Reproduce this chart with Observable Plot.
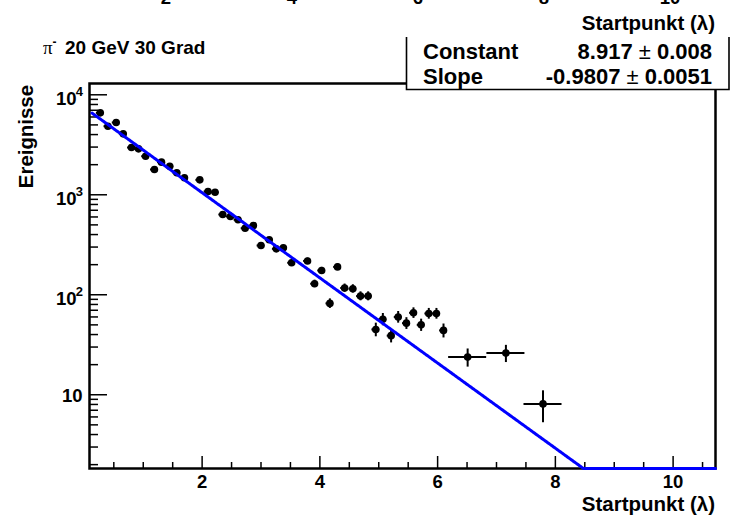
<!DOCTYPE html>
<html>
<head>
<meta charset="utf-8">
<script src="https://cdn.jsdelivr.net/npm/d3@7"></script>
<script src="https://cdn.jsdelivr.net/npm/@observablehq/plot@0.6"></script>
<style>
html, body { margin: 0; padding: 0; background: #fff; }
#chart { width: 731px; height: 516px; overflow: hidden; }
svg { display: block; }
</style>
</head>
<body>
<div id="chart"></div>
<script>
// ---- data ----
const binCenters = [0.27, 0.40, 0.54, 0.66, 0.80, 0.92, 1.04, 1.19, 1.31, 1.45,
                    1.57, 1.70, 1.96, 2.10, 2.22, 2.35, 2.48, 2.61, 2.73, 2.87,
                    3.00, 3.14, 3.26, 3.38, 3.52, 3.79, 3.91, 4.03, 4.17, 4.30,
                    4.42, 4.56, 4.69, 4.82, 4.95, 5.07, 5.21, 5.33, 5.47, 5.59,
                    5.72, 5.85, 5.98, 6.10];
const counts = [6600, 4850, 5280, 4070, 2970, 2880, 2430, 1790, 2120, 1930,
                1660, 1480, 1410, 1080, 1060, 635, 607, 562, 463, 493,
                311, 355, 288, 295, 209, 218, 129, 175, 82, 190,
                117, 115, 97, 97, 45, 57, 39, 60, 52, 66,
                50, 65, 65, 44];
const countErrors = [81, 70, 73, 64, 55, 54, 49, 42, 46, 44,
                     41, 38, 38, 33, 33, 25, 25, 24, 22, 22,
                     18, 19, 17, 17, 14, 15, 11, 13, 9, 14,
                     11, 11, 10, 10, 7, 8, 6, 8, 7, 8,
                     7, 8, 8, 7];
const narrowHalfWidth = 0.066;
const wideCenters = [6.51, 7.16, 7.79];
const wideCounts = [23.8, 26.1, 8.1];
const wideErrors = [4.9, 5.1, 2.85];
const wideHalfWidths = [0.323, 0.323, 0.323];

const fitConstant = 8.917;
const fitSlope = -0.9807;
const fitRange = [0.13, 10.72];

const xTickValues = [2, 4, 6, 8, 10];
const yTickExponents = [1, 2, 3, 4];
const statNames = ["Constant", "Slope"];
const statValues = ["8.917", "-0.9807"];
const statErrors = ["0.008", "0.0051"];
const topPanelTickLabels = ["2", "4", "6", "8", "10"];
const axisTitle = "Startpunkt (\u03bb)";
const yTitle = "Ereignisse";
const panelLabel = ["\u03c0", "-", "20 GeV 30 Grad"];

// ---- build ----
const xDomain = [0.087, 10.72];
const yDomain = [1.83, 12970];
const W = 731, H = 516;
const mL = 89, mR = 16, mT = 83, mB = 48;
const frameW = W - mL - mR, frameH = H - mT - mB;
const font = "'Liberation Sans', Arial, Helvetica, sans-serif";

const points = binCenters.map((x, i) => ({x, y: counts[i], e: countErrors[i], w: narrowHalfWidth}))
  .concat(wideCenters.map((x, i) => ({x, y: wideCounts[i], e: wideErrors[i], w: wideHalfWidths[i]})));

const fitCurve = d3.range(fitRange[0], fitRange[1], 0.02).concat([fitRange[1]])
  .map(x => ({x, y: Math.max(Math.exp(fitConstant + fitSlope * x), yDomain[0])}));

const xMinor = d3.range(0.5, 10.51, 0.5).filter(v => Math.abs(v / 2 - Math.round(v / 2)) > 1e-6);
const yMajor = yTickExponents.map(k => Math.pow(10, k));
const yMinor = [];
for (let k = 0; k <= 4; k++) for (let m = 2; m <= 9; m++) {
  const v = m * Math.pow(10, k);
  if (v > yDomain[0] && v < yDomain[1]) yMinor.push(v);
}

const svg = Plot.plot({
  width: W, height: H,
  marginLeft: mL, marginRight: mR, marginTop: mT, marginBottom: mB,
  style: {fontFamily: font, background: "white", color: "black", overflow: "visible"},
  x: {domain: xDomain, axis: null},
  y: {type: "log", domain: yDomain, axis: null},
  marks: [
    Plot.frame({stroke: "black", strokeWidth: 2.5}),
    Plot.ruleX(xTickValues, {x: d => d, insetTop: frameH - 12, stroke: "black", strokeWidth: 1.5}),
    Plot.ruleX(xMinor, {x: d => d, insetTop: frameH - 6, stroke: "black", strokeWidth: 1.5}),
    Plot.ruleY(yMajor, {y: d => d, insetRight: frameW - 18, stroke: "black", strokeWidth: 1.5}),
    Plot.ruleY(yMinor, {y: d => d, insetRight: frameW - 9, stroke: "black", strokeWidth: 1.5}),
    Plot.ruleX(points, {x: "x", y1: d => d.y - d.e, y2: d => d.y + d.e, stroke: "black", strokeWidth: 2}),
    Plot.ruleY(points, {y: "y", x1: d => d.x - d.w, x2: d => d.x + d.w, stroke: "black", strokeWidth: 2}),
    Plot.dot(points, {x: "x", y: "y", r: 3.8, fill: "black", stroke: "none"}),
    Plot.line(fitCurve, {x: "x", y: "y", stroke: "#0000ff", strokeWidth: 3}),
    Plot.text(xTickValues, {x: d => d, frameAnchor: "bottom", dy: 6, lineAnchor: "top",
      text: d => String(d), fontSize: 18.5, fontWeight: "bold", fill: "black"}),
    Plot.text(yMajor.filter(v => v > 10), {y: d => d, frameAnchor: "left", dx: -13, dy: 4.5,
      textAnchor: "end", lineAnchor: "middle", text: () => "10", fontSize: 18.5, fontWeight: "bold", fill: "black"}),
    Plot.text(yMajor.filter(v => v > 10), {y: d => d, frameAnchor: "left", dx: -6.5, dy: -3,
      textAnchor: "end", lineAnchor: "middle", text: d => String(Math.round(Math.log10(d))), fontSize: 13, fontWeight: "bold", fill: "black"}),
    Plot.text(yMajor.filter(v => v <= 10), {y: d => d, frameAnchor: "left", dx: -7, dy: 1,
      textAnchor: "end", lineAnchor: "middle", text: () => "10", fontSize: 18.5, fontWeight: "bold", fill: "black"})
  ]
});
document.getElementById("chart").appendChild(svg);

// ---- annotations ----
const g = d3.select(svg).append("g").attr("font-family", font).attr("fill", "black")
  .attr("text-anchor", "start");

// cropped tick labels of the panel above
topPanelTickLabels.forEach((t) => {
  g.append("text").attr("x", 40 + 63 * (+t)).attr("y", 4).attr("text-anchor", "middle")
    .attr("font-size", 18.5).attr("font-weight", "bold").text(t);
});
g.append("text").attr("x", 715).attr("y", 30).attr("text-anchor", "end")
  .attr("font-size", 20.5).attr("font-weight", "bold").text(axisTitle);

// x axis title
g.append("text").attr("x", 715).attr("y", 511).attr("text-anchor", "end")
  .attr("font-size", 20.5).attr("font-weight", "bold").text(axisTitle);

// y axis title
g.append("text").attr("transform", "translate(33,85) rotate(-90)").attr("text-anchor", "end")
  .attr("font-size", 20.4).attr("font-weight", "bold").text(yTitle);

// panel label
const pl = g.append("text").attr("x", 43).attr("y", 53.5).attr("font-size", 19).attr("text-anchor", "start");
pl.append("tspan").attr("font-family", "'Liberation Serif', 'Times New Roman', serif").text(panelLabel[0]);
pl.append("tspan").attr("font-size", 12).attr("font-weight", "bold").attr("dy", -8).text(panelLabel[1]);
pl.append("tspan").attr("x", 65).attr("dy", 8).attr("font-weight", "bold").text(panelLabel[2]);

// stats box
const box = {x0: 406.5, x1: 729, y0: 37, y1: 89.5};
g.append("rect").attr("x", box.x0).attr("y", box.y0).attr("width", box.x1 - box.x0)
  .attr("height", box.y1 - box.y0).attr("fill", "white").attr("stroke", "none");
g.append("path").attr("d", `M${box.x0},${box.y0}V${box.y1}H${box.x1}V${box.y0}`)
  .attr("fill", "none").attr("stroke", "black").attr("stroke-width", 1.6);
statNames.forEach((name, i) => {
  const yb = 59 + i * 24.5;
  g.append("text").attr("x", 423).attr("y", yb).attr("text-anchor", "start")
    .attr("font-size", 22).attr("font-weight", "bold").text(name);
  const t = g.append("text").attr("x", 712).attr("y", yb).attr("text-anchor", "end").attr("font-size", 22);
  t.append("tspan").attr("font-weight", "bold").text(statValues[i] + " ");
  t.append("tspan").attr("font-weight", "normal").text("\u00b1");
  t.append("tspan").attr("font-weight", "bold").text(" " + statErrors[i]);
});
</script>
</body>
</html>
